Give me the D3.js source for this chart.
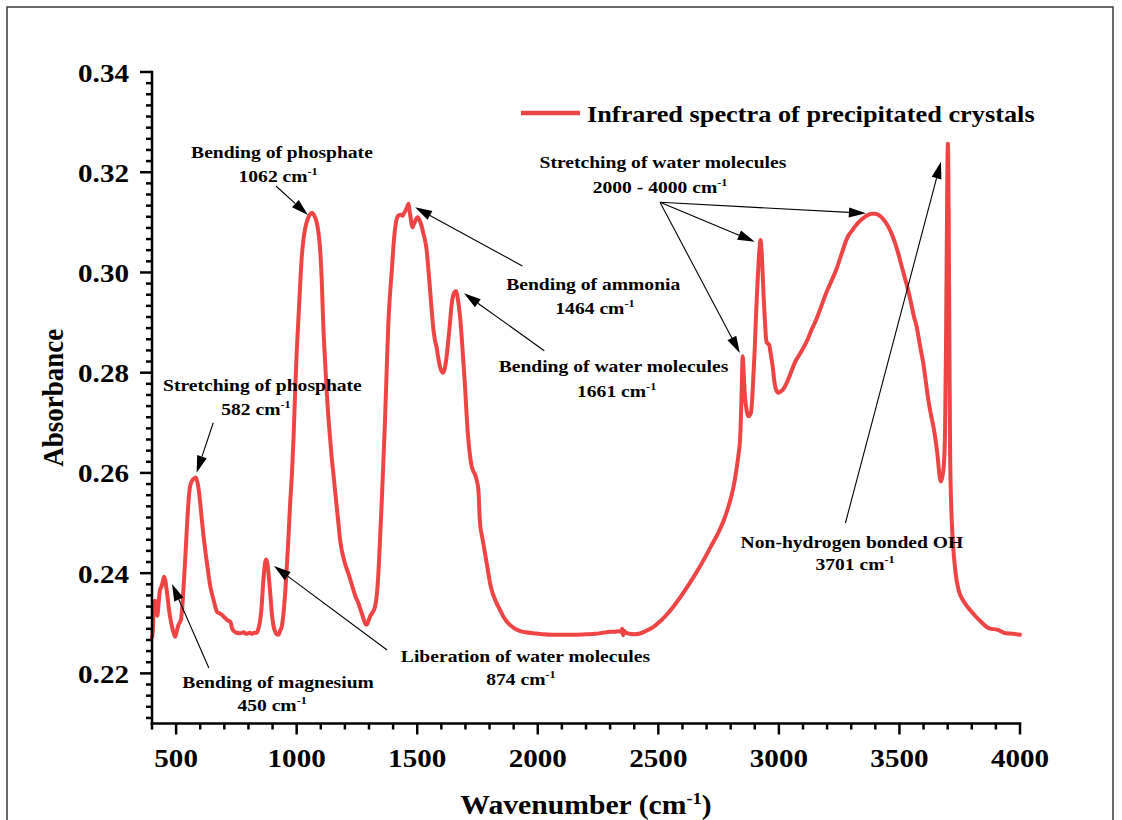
<!DOCTYPE html>
<html>
<head>
<meta charset="utf-8">
<script src="https://cdn.jsdelivr.net/npm/d3@7"></script>
<style>
  html, body { margin: 0; padding: 0; background: #fff; }
  svg { display: block; }
  text { font-family: "Liberation Serif", "Times New Roman", serif; font-weight: bold; fill: #000; }
</style>
</head>
<body>
<svg id="chart" width="1122" height="820"></svg>
<script>
// Infrared absorbance spectrum (wavenumber in cm-1, absorbance)
const wavenumber = [
  400,404,407,412,418,422,427,433,440,446,450,455,459,464,469,476,483,490,496,503,
  510,520,526,531,538,545,551,556,562,568,576,582,589,595,600,607,614,621,628,635,
  642,649,655,662,669,680,690,700,711,718,725,732,740,750,766,780,790,806,815,825,
  834,842,849,855,860,866,870,874,879,884,888,893,897,904,911,918,925,931,938,945,
  953,960,966,973,980,987,994,1000,1007,1014,1021,1028,1035,1044,1053,1062,1070,1078,1086,1094,
  1099,1104,1110,1117,1124,1131,1139,1145,1152,1159,1166,1173,1180,1186,1193,1203,1214,1225,1235,1245,
  1256,1263,1270,1278,1284,1290,1297,1304,1315,1325,1332,1339,1345,1352,1359,1366,1373,1380,1387,1394,
  1401,1408,1414,1421,1430,1440,1445,1449,1455,1460,1464,1468,1473,1477,1481,1485,1490,1496,1502,1510,
  1518,1525,1532,1539,1546,1553,1560,1567,1573,1580,1587,1594,1601,1608,1615,1622,1629,1636,1642,1648,
  1655,1661,1667,1672,1679,1685,1692,1699,1705,1712,1719,1726,1733,1740,1747,1754,1757,1760,1767,1774,
  1781,1788,1795,1802,1812,1823,1833,1843,1860,1880,1900,1925,1950,1980,2020,2060,2100,2150,2200,2240,
  2270,2300,2320,2335,2345,2350,2354,2358,2365,2380,2400,2420,2450,2480,2510,2540,2570,2600,2630,2660,
  2690,2720,2750,2775,2795,2810,2822,2832,2839,2845,2850,2855,2859,2864,2869,2874,2879,2884,2889,2894,
  2900,2905,2910,2915,2920,2924,2928,2932,2937,2942,2946,2950,2955,2960,2965,2970,2975,2980,2986,2991,
  2997,3005,3018,3030,3039,3052,3066,3090,3115,3135,3156,3176,3197,3218,3239,3260,3280,3290,3301,3318,
  3336,3354,3371,3385,3398,3412,3426,3440,3453,3467,3481,3495,3509,3522,3536,3550,3560,3570,3585,3600,
  3610,3620,3630,3640,3650,3658,3665,3672,3678,3684,3689,3693,3697,3701,3704,3707,3710,3715,3722,3733,
  3745,3762,3782,3810,3838,3872,3907,3942,3970,4000
];
const absorbance = [
  0.2272,0.2290,0.2338,0.2345,0.2342,0.2315,0.2338,0.2366,0.2374,0.2386,0.2393,0.2386,0.2373,0.2355,0.2333,0.2310,0.2293,0.2280,0.2273,0.2285,
  0.2297,0.2307,0.2335,0.2373,0.2430,0.2493,0.2540,0.2567,0.2580,0.2586,0.2589,0.2591,0.2580,0.2562,0.2540,0.2505,0.2473,0.2445,0.2420,0.2395,
  0.2373,0.2358,0.2347,0.2334,0.2323,0.2320,0.2317,0.2312,0.2307,0.2305,0.2303,0.2290,0.2284,0.2281,0.2280,0.2282,0.2279,0.2281,0.2279,0.2281,
  0.2281,0.2290,0.2307,0.2335,0.2373,0.2408,0.2423,0.2427,0.2418,0.2395,0.2373,0.2345,0.2320,0.2295,0.2283,0.2278,0.2277,0.2285,0.2293,0.2318,
  0.2365,0.2420,0.2472,0.2540,0.2595,0.2670,0.2767,0.2840,0.2905,0.2970,0.3030,0.3065,0.3087,0.3104,0.3114,0.3119,0.3116,0.3108,0.3093,0.3065,
  0.3033,0.2985,0.2900,0.2830,0.2767,0.2715,0.2667,0.2632,0.2600,0.2566,0.2533,0.2500,0.2467,0.2448,0.2433,0.2415,0.2400,0.2383,0.2367,0.2352,
  0.2340,0.2330,0.2320,0.2308,0.2300,0.2297,0.2304,0.2313,0.2322,0.2333,0.2355,0.2400,0.2460,0.2533,0.2615,0.2700,0.2800,0.2895,0.2955,0.3000,
  0.3050,0.3087,0.3105,0.3113,0.3115,0.3113,0.3118,0.3121,0.3127,0.3133,0.3137,0.3124,0.3108,0.3095,0.3090,0.3095,0.3101,0.3107,0.3110,0.3104,
  0.3093,0.3079,0.3065,0.3045,0.3008,0.2967,0.2925,0.2887,0.2866,0.2852,0.2830,0.2813,0.2803,0.2800,0.2810,0.2833,0.2865,0.2900,0.2933,0.2952,
  0.2961,0.2963,0.2951,0.2935,0.2905,0.2867,0.2818,0.2767,0.2715,0.2667,0.2635,0.2613,0.2603,0.2597,0.2585,0.2565,0.2532,0.2503,0.2478,0.2460,
  0.2440,0.2420,0.2400,0.2380,0.2361,0.2347,0.2336,0.2327,0.2311,0.2299,0.2291,0.2285,0.2282,0.2280,0.2278,0.2277,0.2277,0.2277,0.2278,0.2279,
  0.2281,0.2283,0.2283,0.2284,0.2283,0.2289,0.2276,0.2285,0.2281,0.2279,0.2278,0.2279,0.2285,0.2293,0.2305,0.2320,0.2338,0.2358,0.2380,0.2403,
  0.2428,0.2455,0.2482,0.2510,0.2540,0.2568,0.2600,0.2635,0.2667,0.2750,0.2833,0.2790,0.2755,0.2732,0.2718,0.2713,0.2715,0.2720,0.2745,0.2790,
  0.2850,0.2913,0.2965,0.3013,0.3050,0.3065,0.3045,0.3005,0.2950,0.2905,0.2872,0.2860,0.2858,0.2855,0.2841,0.2826,0.2810,0.2787,0.2770,0.2763,
  0.2760,0.2762,0.2767,0.2777,0.2787,0.2803,0.2820,0.2840,0.2862,0.2885,0.2907,0.2933,0.2960,0.2983,0.3007,0.3037,0.3065,0.3075,0.3082,0.3093,
  0.3103,0.3110,0.3115,0.3117,0.3117,0.3115,0.3110,0.3102,0.3092,0.3078,0.3060,0.3038,0.3013,0.2990,0.2965,0.2935,0.2912,0.2895,0.2855,0.2815,
  0.2780,0.2745,0.2718,0.2695,0.2665,0.2635,0.2600,0.2583,0.2592,0.2615,0.2680,0.2850,0.3100,0.3257,0.3120,0.2880,0.2650,0.2530,0.2460,0.2400,
  0.2367,0.2347,0.2333,0.2317,0.2303,0.2290,0.2287,0.2280,0.2279,0.2277
];

// Axis ticks
const xTicks = [500, 1000, 1500, 2000, 2500, 3000, 3500, 4000];
const yTicks = [0.22, 0.24, 0.26, 0.28, 0.30, 0.32, 0.34];
const yTickLabels = ["0.22", "0.24", "0.26", "0.28", "0.30", "0.32", "0.34"];

const seriesName = "Infrared spectra of precipitated crystals";

// Band assignments: two text lines each, the second carrying the cm-1 unit
const bandTitles = [
  "Bending of phosphate",
  "Stretching of phosphate",
  "Bending of magnesium",
  "Liberation of water molecules",
  "Bending of ammonia",
  "Bending of water molecules",
  "Stretching of water molecules",
  "Non-hydrogen bonded OH"
];
const bandPositions = ["1062", "582", "450", "874", "1464", "1661", "2000 - 4000", "3701"];

// Where each band label sits and where its arrows run, in data units
const bandLayout = [
  { t1: [939, 0.32284], t2: [923, 0.31805], arrows: [[[914, 0.31725], [1047, 0.31146]]] },
  { t1: [858, 0.27641], t2: [831, 0.27156], arrows: [[[654, 0.27002], [585, 0.26004]]] },
  { t1: [923, 0.21718], t2: [898, 0.21249], arrows: [[[636, 0.22107], [483, 0.23783]]] },
  { t1: [1949, 0.22227], t2: [1930, 0.21768], arrows: [[[1375, 0.22467], [906, 0.24143]]] },
  { t1: [2230, 0.29650], t2: [2237, 0.29171], arrows: [[[1936, 0.30129], [1491, 0.31300]]] },
  { t1: [2314, 0.28020], t2: [2327, 0.27515], arrows: [[[2027, 0.28439], [1694, 0.29584]]] },
  { t1: [2519, 0.32078], t2: [2507, 0.31586], arrows: [
      [[2507, 0.31400], [3361, 0.31180]],
      [[2507, 0.31400], [2900, 0.30614]],
      [[2507, 0.31400], [2838, 0.28393]]] },
  { t1: [3303, 0.24492], t2: [3316, 0.24063], arrows: [[[3276, 0.25001], [3672, 0.32210]]] }
];

const svg = d3.select("#chart");
const SX = 1.12;           // horizontal stretch applied to all lettering
const lineColor = "#ef4444";

const x = d3.scaleLinear().domain([400, 4000]).range([152, 1020]);
const y = d3.scaleLinear().domain([0.21, 0.34]).range([723.5, 72]);

// Outer frame
svg.append("rect")
  .attr("x", 7).attr("y", 7).attr("width", 1106).attr("height", 840)
  .attr("fill", "none").attr("stroke", "#3a3a3a").attr("stroke-width", 1.5);

// Helper: stretched text placed at (px, py)
function label(parent, px, py, size, anchor) {
  return parent.append("text")
    .attr("transform", `translate(${px},${py}) scale(${SX},1)`)
    .attr("font-size", size)
    .attr("text-anchor", anchor);
}
function addUnit(t, prefix, after) {
  t.append("tspan").text(prefix + " cm");
  t.append("tspan").attr("font-size", "0.62em").attr("dy", "-0.62em").text("-1");
  if (after) t.append("tspan").attr("dy", "0.385em").text(after);
}

// Spectrum
const spectrum = wavenumber.map((w, i) => [w, absorbance[i]]);
svg.append("path")
  .datum(spectrum)
  .attr("fill", "none")
  .attr("stroke", lineColor)
  .attr("stroke-width", 4)
  .attr("stroke-linejoin", "round")
  .attr("stroke-linecap", "round")
  .attr("d", d3.line().x(d => x(d[0])).y(d => y(d[1])).curve(d3.curveMonotoneX));

// Axes
const axisG = svg.append("g").attr("stroke", "#000").attr("stroke-width", 2.5);
axisG.append("line").attr("x1", x(400)).attr("x2", x(4000)).attr("y1", y(0.21)).attr("y2", y(0.21))
  .attr("stroke-linecap", "square");
axisG.append("line").attr("x1", x(400)).attr("x2", x(400)).attr("y1", y(0.21)).attr("y2", y(0.34))
  .attr("stroke-linecap", "square");

// X ticks: majors every 500, minors every 100
const xMinor = d3.range(400, 4001, 100).filter(v => v % 500 !== 0);
axisG.selectAll(".xmin").data(xMinor).join("line")
  .attr("x1", d => x(d)).attr("x2", d => x(d)).attr("y1", y(0.21)).attr("y2", y(0.21) + 6);
axisG.selectAll(".xmaj").data(xTicks).join("line")
  .attr("x1", d => x(d)).attr("x2", d => x(d)).attr("y1", y(0.21)).attr("y2", y(0.21) + 11);

// Y ticks: majors every 0.02, eight minors between
const yMinor = [];
for (let m = 0.22; m < 0.335; m += 0.02) {
  for (let k = 1; k <= 8; k++) yMinor.push(m + k * 0.02 / 9);
}
for (let k = 1; k <= 4; k++) yMinor.push(0.22 - k * 0.02 / 9);
axisG.selectAll(".ymin").data(yMinor).join("line")
  .attr("x1", x(400)).attr("x2", x(400) - 6).attr("y1", d => y(d)).attr("y2", d => y(d));
axisG.selectAll(".ymaj").data(yTicks).join("line")
  .attr("x1", x(400)).attr("x2", x(400) - 12).attr("y1", d => y(d)).attr("y2", d => y(d));

xTicks.forEach(v => label(svg, x(v), y(0.21) + 43.5, 26, "middle").text(v));
yTicks.forEach((v, i) => label(svg, x(400) - 23, y(v) + 9.5, 26, "end").text(yTickLabels[i]));

// Axis titles
const xt = label(svg, (x(400) + x(4000)) / 2, 814, 26.5, "middle");
addUnit(xt, "Wavenumber (", ")");
xt.select("tspan").text("Wavenumber (cm");

svg.append("text")
  .attr("transform", `translate(63,${(y(0.21) + y(0.34)) / 2}) scale(${SX},1) rotate(-90)`)
  .attr("font-size", 27).attr("text-anchor", "middle").text("Absorbance");

// Legend
svg.append("line").attr("x1", 521).attr("x2", 580).attr("y1", 113).attr("y2", 113)
  .attr("stroke", lineColor).attr("stroke-width", 4.5);
label(svg, 587, 122, 23.5, "start").text(seriesName);

// Band annotations with arrows
const annG = svg.append("g");
function arrow(p0, p1) {
  const x0 = x(p0[0]), y0 = y(p0[1]), x1 = x(p1[0]), y1 = y(p1[1]);
  const ang = Math.atan2(y1 - y0, x1 - x0);
  const L = 17, W = 5;
  const bx = x1 - L * Math.cos(ang), by = y1 - L * Math.sin(ang);
  annG.append("line").attr("x1", x0).attr("y1", y0).attr("x2", bx).attr("y2", by)
    .attr("stroke", "#000").attr("stroke-width", 1.1);
  const px = -Math.sin(ang), py = Math.cos(ang);
  annG.append("polygon")
    .attr("points", [[x1, y1], [bx + W * px, by + W * py], [bx - W * px, by - W * py]].map(p => p.join(",")).join(" "))
    .attr("fill", "#000");
}
bandLayout.forEach((b, i) => {
  label(annG, x(b.t1[0]), y(b.t1[1]), 17.5, "middle").text(bandTitles[i]);
  addUnit(label(annG, x(b.t2[0]), y(b.t2[1]), 17.5, "middle"), bandPositions[i]);
  b.arrows.forEach(a => arrow(a[0], a[1]));
});
</script>
</body>
</html>
